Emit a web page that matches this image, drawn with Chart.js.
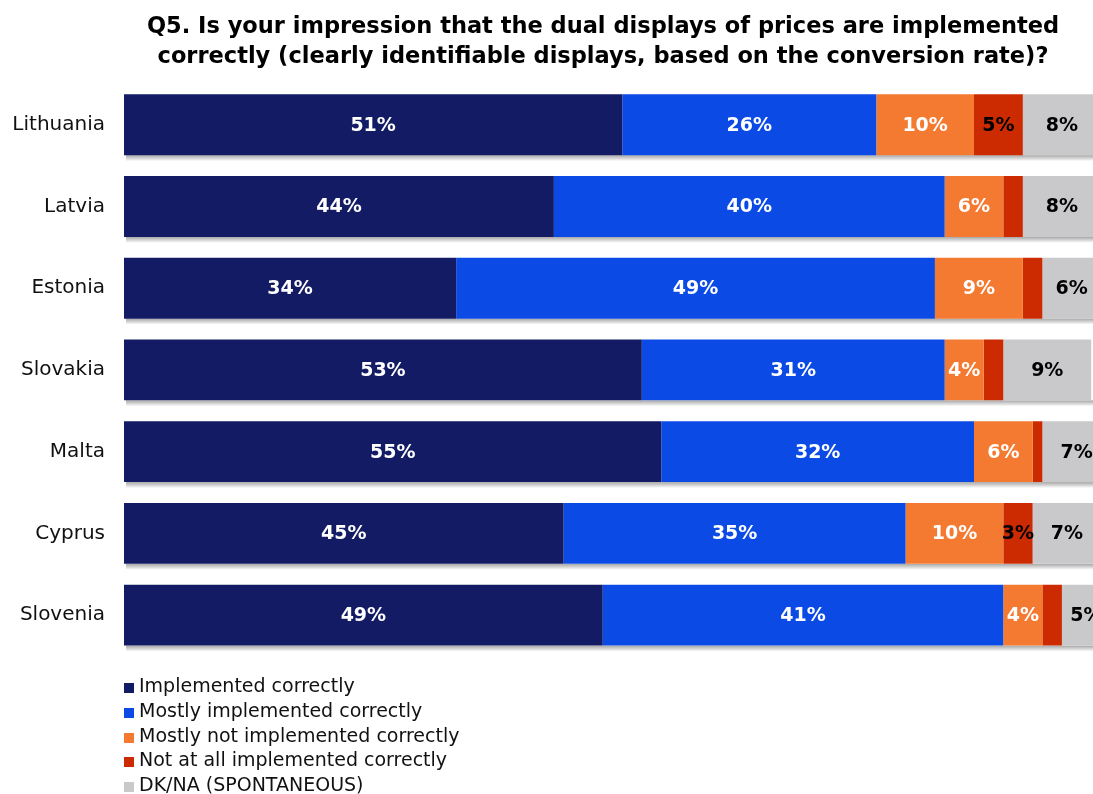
<!DOCTYPE html>
<html>
<head>
<meta charset="utf-8">
<script src="https://cdn.jsdelivr.net/npm/chart.js@4.4.1/dist/chart.umd.min.js"></script>
<style>
    html, body { margin: 0; padding: 0; background: #fff; overflow: hidden; }
    #wrap { position: relative; width: 1093px; height: 794px; overflow: hidden; }
    #chartBox { position: absolute; left: 0; top: 0; width: 1206px; height: 679px; }
    #legend { position: absolute; left: 124px; top: 673px; font-family: "DejaVu Sans", Verdana, sans-serif; font-size: 19px; color: #111; }
    .legend-row { height: 24.8px; line-height: 24.8px; white-space: nowrap; }
    .legend-box { display: inline-block; width: 10px; height: 10px; margin-right: 5px; vertical-align: -1px; }
</style>
</head>
<body>
<div id="wrap">
    <div id="chartBox"><canvas id="q5Chart"></canvas></div>
    <div id="legend"></div>
</div>
<script>
// Q5 - dual display of prices, by country (%)
const categories = ['Lithuania', 'Latvia', 'Estonia', 'Slovakia', 'Malta', 'Cyprus', 'Slovenia'];
const seriesNames = [
    'Implemented correctly',
    'Mostly implemented correctly',
    'Mostly not implemented correctly',
    'Not at all implemented correctly',
    'DK/NA (SPONTANEOUS)'
];
const implementedCorrectly = [51, 44, 34, 53, 55, 45, 49];
const mostlyCorrectly = [26, 40, 49, 31, 32, 35, 41];
const mostlyNotCorrectly = [10, 6, 9, 4, 6, 10, 4];
const notAtAllCorrectly = [5, 2, 2, 2, 1, 3, 2];
const dkNa = [8, 8, 6, 9, 7, 7, 5];

const seriesColors = ['#121b64', '#0b4ae4', '#f47a32', '#cc2b02', '#c9c9cb'];
const labelColors = ['#fff', '#fff', '#fff', '#000', '#000'];
const minLabelValue = 3;

const FONT = '"DejaVu Sans", Verdana, sans-serif';

// title spans the whole canvas, not only the area left of the right padding
const titleSpan = {
    id: 'titleSpan',
    afterLayout(chart) {
        chart.titleBlock.left = 0;
        chart.titleBlock.right = chart.width;
    }
};

// soft shadow under each stacked bar
const barShadow = {
    id: 'barShadow',
    beforeDatasetsDraw(chart) {
        const ctx = chart.ctx;
        const x0 = chart.scales.x.getPixelForValue(0);
        const lastMeta = chart.getDatasetMeta(chart.data.datasets.length - 1);
        ctx.save();
        lastMeta.data.forEach(bar => {
            const bottom = bar.y + bar.height / 2;
            const grad = ctx.createLinearGradient(0, bottom, 0, bottom + 6);
            grad.addColorStop(0, 'rgba(0,0,0,0.35)');
            grad.addColorStop(1, 'rgba(0,0,0,0)');
            ctx.fillStyle = grad;
            ctx.fillRect(x0 + 2, bottom, bar.x - x0, 6);
        });
        ctx.restore();
    }
};

// percentage labels in the middle of each segment
const segmentLabels = {
    id: 'segmentLabels',
    afterDatasetsDraw(chart) {
        const ctx = chart.ctx;
        ctx.save();
        ctx.font = 'bold 19px ' + FONT;
        ctx.textAlign = 'center';
        ctx.textBaseline = 'middle';
        chart.data.datasets.forEach((ds, i) => {
            const meta = chart.getDatasetMeta(i);
            meta.data.forEach((bar, j) => {
                const v = ds.data[j];
                if (v < minLabelValue) return;
                ctx.fillStyle = labelColors[i];
                ctx.fillText(v + '%', (bar.x + bar.base) / 2, bar.y + 1);
            });
        });
        ctx.restore();
    }
};

const seriesData = [implementedCorrectly, mostlyCorrectly, mostlyNotCorrectly, notAtAllCorrectly, dkNa];

const chart = new Chart(document.getElementById('q5Chart'), {
    type: 'bar',
    data: {
        labels: categories,
        datasets: seriesNames.map((name, i) => ({
            label: name,
            data: seriesData[i],
            backgroundColor: seriesColors[i],
            borderWidth: 0,
            barPercentage: 0.745,
            categoryPercentage: 1
        }))
    },
    options: {
        indexAxis: 'y',
        responsive: true,
        maintainAspectRatio: false,
        animation: false,
        // the 100% end sits just past the visible edge
        layout: { padding: { top: 0, bottom: 0, left: 0, right: 105 } },
        scales: {
            x: {
                stacked: true,
                min: 0,
                max: 100,
                display: false
            },
            y: {
                stacked: true,
                grid: { display: false },
                border: { display: false },
                ticks: {
                    padding: 11,
                    color: '#111',
                    font: { family: FONT, size: 20 }
                },
                afterFit(scale) { scale.width = 124; }
            }
        },
        plugins: {
            legend: { display: false },
            tooltip: { enabled: false },
            title: {
                display: true,
                text: [
                    'Q5. Is your impression that the dual displays of prices are implemented',
                    'correctly (clearly identifiable displays, based on the conversion rate)?'
                ],
                color: '#000',
                font: { family: FONT, size: 22.5, weight: 'bold', lineHeight: 1.33 },
                padding: { top: 12, bottom: 12 }
            }
        }
    },
    plugins: [titleSpan, barShadow, segmentLabels]
});

// legend as a vertical list under the chart
const legendEl = document.getElementById('legend');
legendEl.innerHTML = chart.data.datasets.map(ds =>
    `<div class="legend-row"><span class="legend-box" style="background:${ds.backgroundColor}"></span>${ds.label}</div>`
).join('');
</script>
</body>
</html>
